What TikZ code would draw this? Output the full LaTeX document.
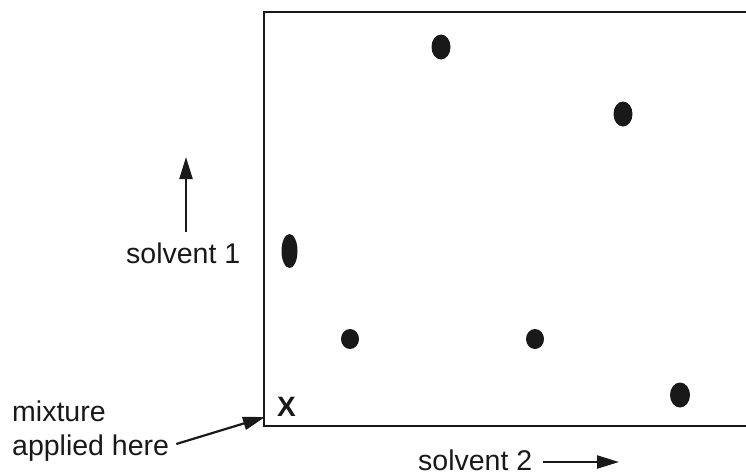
\documentclass[tikz,border=0pt]{standalone}
\usepackage{fontspec}
\setmainfont{Liberation Sans}
\usetikzlibrary{arrows.meta}
\tikzset{
  lbl/.style={inner sep=0pt, anchor=base west, font=\fontsize{28.5}{32}\selectfont, text=black!90},
  plate/.style={line width=2.8pt, draw=black!90},
  arr/.style={line width=2.2pt, draw=black!90, -{Triangle[length=22pt,width=13pt]}},
  spot/.style={fill=black!90}
}
\begin{document}
\begin{tikzpicture}[x=1pt,y=-1pt]
\useasboundingbox (0,0) rectangle (746,475);
% plate
\draw[plate] (746,12) -- (264,12) -- (264,426) -- (746,426);
% spots
\fill[spot] (441,47) ellipse [x radius=9.5, y radius=12.5];
\fill[spot] (623,114) ellipse [x radius=9.5, y radius=12.5];
\fill[spot] (289.5,251) ellipse [x radius=8, y radius=17];
\fill[spot] (350,339) ellipse [x radius=9, y radius=10];
\fill[spot] (535,339) ellipse [x radius=9, y radius=10];
\fill[spot] (680,395) ellipse [x radius=10, y radius=12.5];
% labels
\node[lbl, font=\fontsize{28}{30}\selectfont\bfseries] (x) at (277,416) {X};
\node[lbl] (s1) at (126,263) {solvent 1};
\node[lbl] (m1) at (12,421) {mixture};
\node[lbl] (m2) at (12,455) {applied here};
\node[lbl] (s2) at (418,470.5) {solvent 2};
% arrows
\coordinate (up0) at (186,232);
\coordinate (up1) at (186,157);
\coordinate (corner) at (265,417);
\coordinate (r1) at (619,462);
\draw[arr] (up0) -- (up1);
\draw[arr] (m2.east |- 0,444) ++(7,0) coordinate (m2a) -- (corner);
\draw[arr] (s2.east |- 0,462) ++(11,0) coordinate (r0) -- (r1);
\end{tikzpicture}
\end{document}
